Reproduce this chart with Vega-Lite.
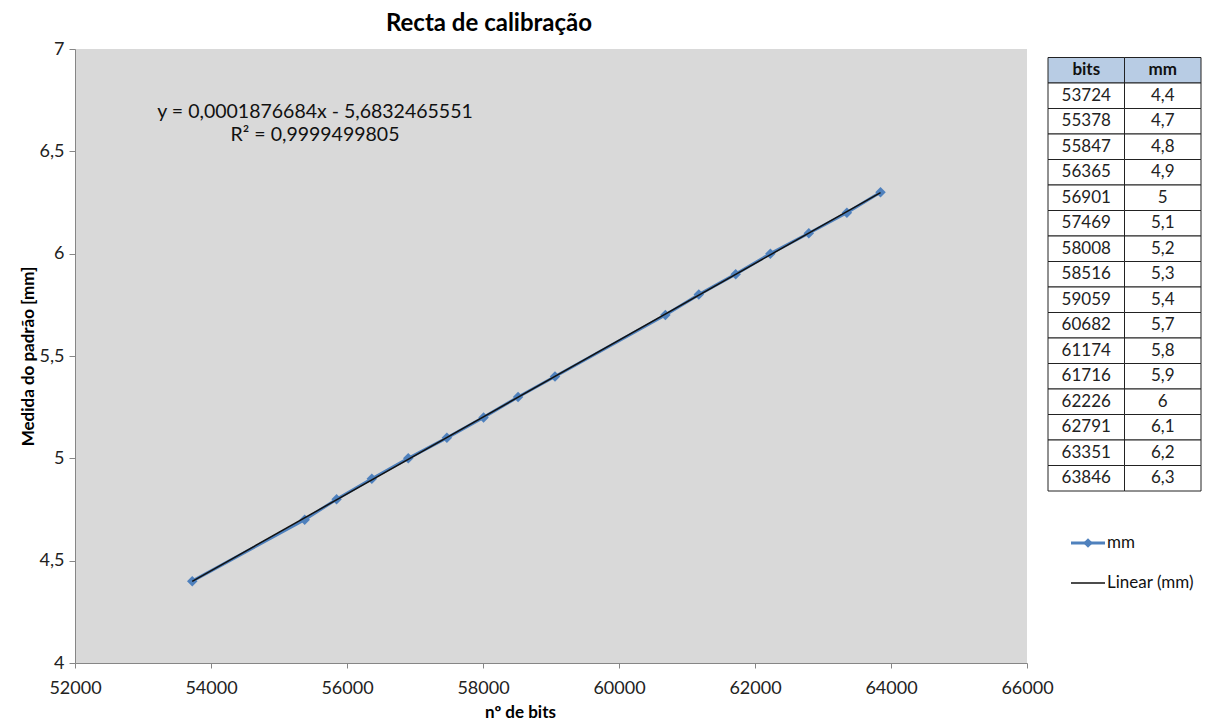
{
  "$schema": "https://vega.github.io/schema/vega-lite/v6.json",
  "background": "white",
  "padding": {"left": 19, "top": 12, "right": 5, "bottom": 5},
  "bounds": "flush",
  "spacing": 21,
  "config": {
    "font": "Lato",
    "locale": {"number": {"decimal": ",", "thousands": "", "grouping": [3], "currency": ["", ""]}},
    "view": {"stroke": null}
  },
  "datasets": {
    "calib": [
      {"bits": 53724, "mm": 4.4},
      {"bits": 55378, "mm": 4.7},
      {"bits": 55847, "mm": 4.8},
      {"bits": 56365, "mm": 4.9},
      {"bits": 56901, "mm": 5.0},
      {"bits": 57469, "mm": 5.1},
      {"bits": 58008, "mm": 5.2},
      {"bits": 58516, "mm": 5.3},
      {"bits": 59059, "mm": 5.4},
      {"bits": 60682, "mm": 5.7},
      {"bits": 61174, "mm": 5.8},
      {"bits": 61716, "mm": 5.9},
      {"bits": 62226, "mm": 6.0},
      {"bits": 62791, "mm": 6.1},
      {"bits": 63351, "mm": 6.2},
      {"bits": 63846, "mm": 6.3}
    ],
    "header": [{"col": "bits"}, {"col": "mm"}],
    "legend": [{"series": "mm"}, {"series": "Linear (mm)"}]
  },
  "hconcat": [
    {
      "width": 952,
      "height": 614,
      "title": {"text": "Recta de calibração", "fontSize": 24, "fontWeight": "bold", "anchor": "middle", "dx": -62, "offset": 4, "color": "black"},
      "view": {"fill": "#D9D9D9", "stroke": null},
      "data": {"name": "calib"},
      "layer": [
        {
          "mark": {"type": "line", "color": "#4F81BD", "strokeWidth": 3, "point": {"shape": "diamond", "filled": true, "size": 110, "color": "#4F81BD"}},
          "encoding": {
            "x": {"field": "bits", "type": "quantitative", "scale": {"domain": [52000, 66000], "nice": false, "zero": false},
              "axis": {"title": "nº de bits", "titleFontSize": 17, "titleFontWeight": "bold", "titleColor": "black", "titleX": 445, "titlePadding": 7,
                "values": [52000, 54000, 56000, 58000, 60000, 62000, 64000, 66000], "format": "d", "labelFontSize": 18, "labelColor": "#222",
                "labelPadding": 11, "tickSize": 5, "tickColor": "#868686", "domainColor": "#868686", "grid": false, "labelFlush": false, "labelOverlap": false}},
            "y": {"field": "mm", "type": "quantitative", "scale": {"domain": [4, 7], "nice": false, "zero": false},
              "axis": {"title": "Medida do padrão [mm]", "titleFontSize": 17, "titleFontWeight": "bold", "titleColor": "black", "titlePadding": 2,
                "values": [4, 4.5, 5, 5.5, 6, 6.5, 7], "format": "~g", "labelFontSize": 18, "labelColor": "#222",
                "labelPadding": 5, "tickSize": 6, "tickColor": "#868686", "domainColor": "#868686", "grid": false}}
          }
        },
        {
          "transform": [{"regression": "mm", "on": "bits", "extent": [53724, 63846]}],
          "mark": {"type": "line", "color": "#111111", "strokeWidth": 1.5},
          "encoding": {
            "x": {"field": "bits", "type": "quantitative"},
            "y": {"field": "mm", "type": "quantitative"}
          }
        },
        {
          "data": {"values": [{}]},
          "mark": {"type": "text", "text": "y = 0,0001876684x - 5,6832465551", "fontSize": 19.5, "color": "#111111", "align": "center", "baseline": "middle"},
          "encoding": {"x": {"datum": 55530}, "y": {"datum": 6.69}}
        },
        {
          "data": {"values": [{}]},
          "mark": {"type": "text", "text": "R² = 0,9999499805", "fontSize": 19.5, "color": "#111111", "align": "center", "baseline": "middle"},
          "encoding": {"x": {"datum": 55530}, "y": {"datum": 6.58}}
        }
      ]
    },
    {
      "vconcat": [
        {
          "width": 153,
          "height": 442,
          "layer": [
            {
              "data": {"name": "header"},
              "mark": {"type": "rect", "fill": "#B8CCE4", "stroke": "#222222", "strokeWidth": 1},
              "encoding": {"x": {"field": "col", "type": "nominal"}, "y": {"datum": "header"}}
            },
            {
              "data": {"name": "header"},
              "mark": {"type": "text", "fontSize": 17, "fontWeight": "bold", "color": "#111111"},
              "encoding": {"x": {"field": "col", "type": "nominal"}, "y": {"datum": "header"}, "text": {"field": "col"}}
            },
            {
              "data": {"name": "calib"},
              "transform": [{"fold": ["bits", "mm"], "as": ["col", "val"]}],
              "mark": {"type": "rect", "fill": "white", "stroke": "#222222", "strokeWidth": 1},
              "encoding": {"x": {"field": "col", "type": "nominal"}, "y": {"field": "bits", "type": "ordinal"}}
            },
            {
              "data": {"name": "calib"},
              "transform": [{"fold": ["bits", "mm"], "as": ["col", "val"]}],
              "mark": {"type": "text", "fontSize": 17, "color": "#222222"},
              "encoding": {"x": {"field": "col", "type": "nominal"}, "y": {"field": "bits", "type": "ordinal"}, "text": {"field": "val", "type": "quantitative", "format": "~g"}}
            }
          ],
          "encoding": {
            "x": {"field": "col", "type": "nominal", "scale": {"type": "band", "domain": ["bits", "mm"], "paddingInner": 0, "paddingOuter": 0}, "axis": null},
            "y": {"type": "ordinal", "scale": {"type": "band", "domain": ["header", 53724, 55378, 55847, 56365, 56901, 57469, 58008, 58516, 59059, 60682, 61174, 61716, 62226, 62791, 63351, 63846], "paddingInner": 0, "paddingOuter": 0.1667, "align": 1}, "axis": null}
          }
        },
        {
          "width": 160,
          "height": 80,
          "data": {"name": "legend"},
          "layer": [
            {
              "mark": {"type": "rule"},
              "encoding": {
                "x": {"datum": 23, "scale": {"domain": [0, 160]}, "axis": null},
                "x2": {"datum": 57},
                "y": {"field": "series", "type": "nominal", "scale": {"domain": ["mm", "Linear (mm)"]}, "axis": null},
                "color": {"field": "series", "type": "nominal", "scale": {"domain": ["mm", "Linear (mm)"], "range": ["#4F81BD", "#111111"]}, "legend": null},
                "strokeWidth": {"field": "series", "type": "nominal", "scale": {"domain": ["mm", "Linear (mm)"], "range": [3, 1.5]}, "legend": null}
              }
            },
            {
              "transform": [{"filter": "datum.series === 'mm'"}],
              "mark": {"type": "point", "shape": "diamond", "filled": true, "size": 90, "color": "#4F81BD", "opacity": 1},
              "encoding": {
                "x": {"datum": 40},
                "y": {"field": "series", "type": "nominal"}
              }
            },
            {
              "mark": {"type": "text", "align": "left", "baseline": "middle", "fontSize": 17, "color": "#111111"},
              "encoding": {
                "x": {"datum": 59},
                "y": {"field": "series", "type": "nominal"},
                "text": {"field": "series"}
              }
            }
          ]
        }
      ],
      "spacing": 31
    }
  ]
}
